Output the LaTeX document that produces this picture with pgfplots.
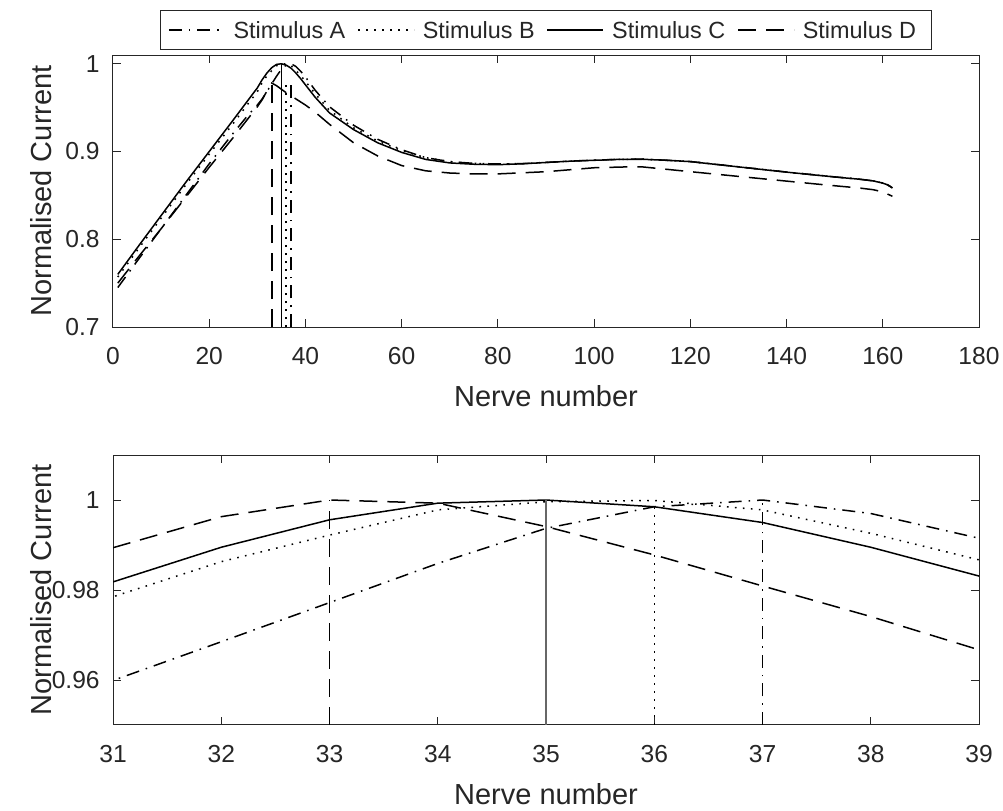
\documentclass[border=0pt]{standalone}
\usepackage{fontspec}
\setmainfont{Liberation Sans}
\usepackage{pgfplots}
\pgfplotsset{compat=1.18}
\usepackage{pgfplotstable}

\definecolor{axgray}{RGB}{38,38,38}

% Normalised current per nerve, stimuli A-C (shared by both panels)
\pgfplotstableread{
n     A       B       C
1     0.745   0.757   0.760
5     0.775   0.787   0.790
10    0.812   0.824   0.827
15    0.849   0.861   0.864
20    0.886   0.897   0.900
25    0.921   0.932   0.936
28    0.941   0.954   0.958
30    0.953   0.968   0.9725
31    0.9599  0.9785  0.9818
32    0.9685  0.9863  0.9895
33    0.9772  0.9922  0.9956
34    0.9859  0.9978  0.9993
35    0.9937  0.9996  1.0000
36    0.9985  0.9999  0.9985
37    1.0000  0.9978  0.9950
38    0.9970  0.9926  0.9895
39    0.9915  0.9867  0.9831
40    0.9850  0.9800  0.9760
42    0.9700  0.9660  0.9620
45    0.9510  0.9470  0.9440
50    0.9300  0.9270  0.9250
55    0.9140  0.9120  0.9100
60    0.9020  0.9010  0.8990
65    0.8930  0.8930  0.8910
70    0.8885  0.8885  0.8870
75    0.8865  0.8865  0.8855
80    0.8858  0.8858  0.8850
85    0.8862  0.8862  0.8860
90    0.8876  0.8876  0.8875
95    0.8891  0.8891  0.8890
100   0.8901  0.8901  0.8900
105   0.8911  0.8911  0.8910
110   0.8913  0.8913  0.8912
115   0.8901  0.8901  0.8900
120   0.8886  0.8886  0.8885
130   0.8826  0.8826  0.8825
140   0.8766  0.8766  0.8765
150   0.8711  0.8711  0.8710
155   0.8686  0.8686  0.8685
158   0.8666  0.8666  0.8665
160   0.8641  0.8641  0.8640
161   0.8621  0.8621  0.8620
162   0.8586  0.8586  0.8585
}\stimABC

% Stimulus D, full nerve range
\pgfplotstableread{
n     D
1     0.750
5     0.778
10    0.812
15    0.847
20    0.882
25    0.916
28    0.937
30    0.951
31    0.959
32    0.969
33    0.978
34    0.975
35    0.971
36    0.967
38    0.960
40    0.953
42    0.945
45    0.931
50    0.910
55    0.895
60    0.884
65    0.878
70    0.8755
75    0.8745
80    0.8745
90    0.8770
100   0.8815
107   0.8825
110   0.8825
121   0.8765
134   0.8695
148   0.8620
155   0.8585
158   0.8565
160   0.8540
162   0.8490
}\stimDfull

% Stimulus D around the peak
\pgfplotstableread{
n     D
31    0.9894
32    0.9963
33    1.0000
34    0.9993
35    0.9941
36    0.9878
37    0.9809
38    0.9741
39    0.9667
}\stimDzoom

\pgfplotsset{
  styA/.style={black, line width=0.75pt, dash pattern=on 6.5pt off 3.5pt on 0.8pt off 3.5pt},
  styB/.style={black, line width=0.75pt, dash pattern=on 0.8pt off 3.2pt},
  styC/.style={black, line width=0.75pt, solid},
  styD/.style={black, line width=0.75pt, dash pattern=on 9pt off 5pt},
  nerve axis/.style={
    scale only axis,
    width=433pt,
    axis line style={axgray, line width=0.5pt},
    tick style={axgray, line width=0.5pt},
    tick align=inside,
    major tick length=4pt,
    xtick pos=both, ytick pos=both,
    xticklabel pos=lower, yticklabel pos=left,
    /pgf/number format/assume math mode=true,
    tick label style={font=\fontsize{12.3pt}{14pt}\selectfont, text=axgray},
    xticklabel style={anchor=north, inner sep=0pt, yshift=-10pt},
    yticklabel style={anchor=east, inner sep=0pt, xshift=-6.5pt},
    label style={font=\fontsize{14.5pt}{17pt}\selectfont, text=axgray},
    xlabel style={at={(axis description cs:0.5,0)}, anchor=center, inner sep=0pt, yshift=-34.5pt},
    ylabel style={at={(axis description cs:0,0.5)}, anchor=center, inner sep=0pt, yshift=36pt},
    xlabel={Nerve number},
    ylabel={Normalised Current},
  },
}

\begin{document}
\begin{tikzpicture}
\useasboundingbox (0pt,0pt) rectangle (501.5pt,-405pt);

% Full nerve range
\begin{axis}[
  nerve axis,
  at={(56.5pt,-163.5pt)}, anchor=south west,
  height=136pt,
  xmin=0, xmax=180, ymin=0.7, ymax=1.01,
  xtick={0,20,...,180},
  ytick={0.7,0.8,0.9,1},
  yticklabels={0.7,0.8,0.9,1},
  legend columns=4,
  legend style={at={(0.5,1)}, anchor=south, yshift=2.5pt,
    draw=axgray, line width=0.5pt, fill=white,
    font=\fontsize{11.7pt}{13pt}\selectfont, text=axgray,
    inner xsep=4pt, inner ysep=4pt,
    nodes={inner xsep=4pt, inner ysep=1.5pt, text height=8.6pt, text depth=0pt},
    /tikz/every even column/.append style={column sep=2pt}},
  legend image code/.code={\draw[#1] (0pt,0pt) -- (28pt,0pt);},
]
\addplot[styA] table[x=n, y=A] {\stimABC};
\addlegendentry{Stimulus A}
\addplot[styB] table[x=n, y=B] {\stimABC};
\addlegendentry{Stimulus B}
\addplot[styC] table[x=n, y=C] {\stimABC};
\addlegendentry{Stimulus C}
\addplot[styD] table[x=n, y=D] {\stimDfull};
\addlegendentry{Stimulus D}
% peak markers
\addplot[styD, forget plot] coordinates {(33,0.7) (33,0.978)};
\addplot[styC, forget plot] coordinates {(35,0.7) (35,1.0)};
\addplot[styB, forget plot] coordinates {(36,0.7) (36,0.98)};
\addplot[styA, forget plot] coordinates {(37,0.7) (37,0.98)};
\end{axis}

% Detail around the peaks
\begin{axis}[
  nerve axis,
  at={(56.5pt,-362.5pt)}, anchor=south west,
  height=135pt,
  xmin=31, xmax=39, ymin=0.95, ymax=1.01,
  xtick={31,32,...,39},
  ytick={0.96,0.98,1},
  yticklabels={0.96,0.98,1},
]
\addplot[styA] table[x=n, y=A] {\stimABC};
\addplot[styB] table[x=n, y=B] {\stimABC};
\addplot[styC] table[x=n, y=C] {\stimABC};
\addplot[styD] table[x=n, y=D] {\stimDzoom};
\addplot[styD] coordinates {(33,0.95) (33,1.0)};
\addplot[styC, axgray!70] coordinates {(35,0.95) (35,1.0)};
\addplot[styB] coordinates {(36,0.95) (36,0.9985)};
\addplot[styA] coordinates {(37,0.95) (37,1.0)};
\end{axis}
\end{tikzpicture}
\end{document}
